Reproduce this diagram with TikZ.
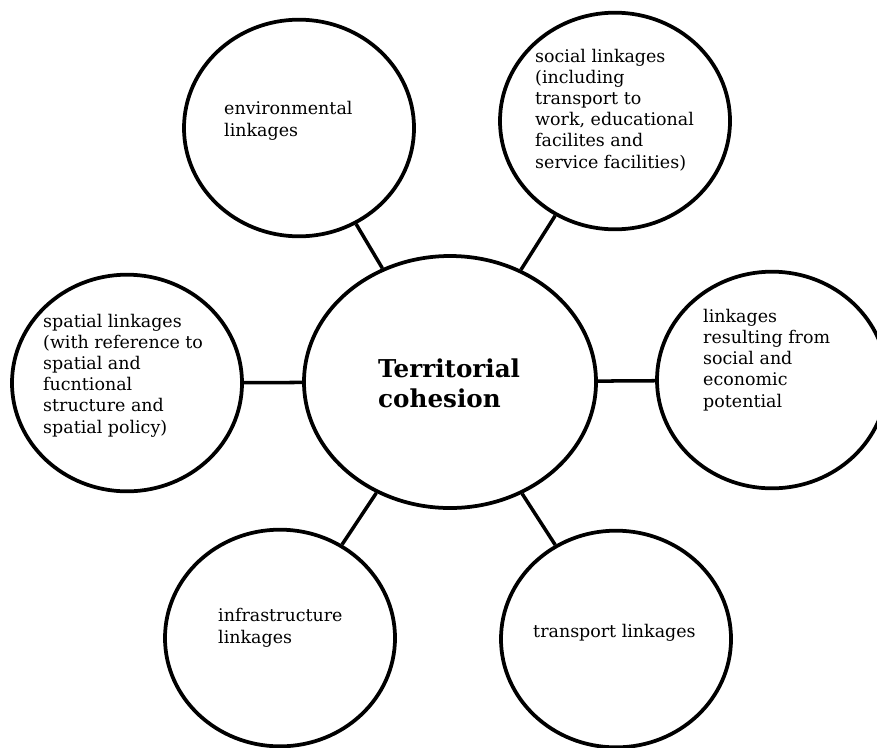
\documentclass[tikz,border=0pt]{standalone}
\usepackage{fontspec}
\setmainfont{DejaVu Serif}
\usepackage{tikz}
\usetikzlibrary{positioning,shapes.geometric}
\tikzset{
  hub/.style={draw,ellipse,line width=3.2pt,minimum width=8.76cm,minimum height=7.56cm},
  spoke/.style={draw,ellipse,line width=3.2pt,minimum width=6.9cm,minimum height=6.5cm},
  tie/.style={line width=3pt},
  words/.style={anchor=base west,inner sep=0pt,align=left,font=\fontsize{14.9}{18}\selectfont},
}

\begin{document}
\begin{tikzpicture}[x=0.03cm,y=-0.03cm]
\useasboundingbox (0,0) rectangle (877,747);
% circles
\node[hub] (cent) at (450,382) {};
\node[spoke] (env) at (299,128) {};
\node[spoke] (soc) at (615,121) {};
\node[spoke] (spat) at (127,383) {};
\node[spoke] (link) at (772,380) {};
\node[spoke] (infra) at (280,638) {};
\node[spoke] (trans) at (616,639) {};
\foreach \n in {env,soc,spat,link,infra,trans}
  \draw[tie] (cent) -- (\n);
% texts (anchored at the last baseline)
\node[words,font=\bfseries\fontsize{21}{25}\selectfont] (centtxt) at (378,407) {Territorial\\cohesion};
\node[words] (envtxt) at (224,136) {environmental\\linkages};
\node[words] (soctxt) at (535,168) {social linkages\\(including\\transport to\\work, educational\\facilites and\\service facilities)};
\node[words] (spattxt) at (43,433) {spatial linkages\\(with reference to\\spatial and\\fucntional\\structure and\\spatial policy)};
\node[words] (linktxt) at (703,407) {linkages\\resulting from\\social and\\economic\\potential};
\node[words] (infratxt) at (218,643) {infrastructure\\linkages};
\node[words] (transtxt) at (533,637) {transport linkages};
\end{tikzpicture}
\end{document}
